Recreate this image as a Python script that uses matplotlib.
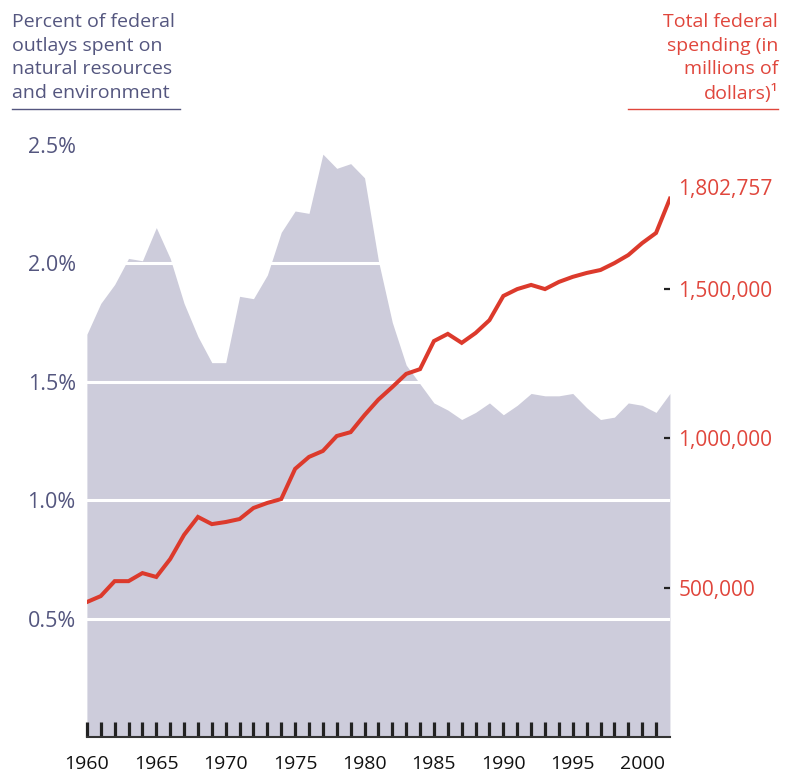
import matplotlib.pyplot as plt
from matplotlib.ticker import FuncFormatter

plt.rcParams['font.family'] = ['Open Sans', 'DejaVu Sans']

years = list(range(1960, 2003))

# percent of federal outlays spent on natural resources and environment
pct_outlays = [1.70, 1.83, 1.91, 2.02, 2.01, 2.15, 2.02, 1.83, 1.69, 1.58,
               1.58, 1.86, 1.85, 1.95, 2.13, 2.22, 2.21, 2.46, 2.40, 2.42,
               2.36, 2.01, 1.75, 1.57, 1.49, 1.41, 1.38, 1.34, 1.37, 1.41,
               1.36, 1.40, 1.45, 1.44, 1.44, 1.45, 1.39, 1.34, 1.35, 1.41,
               1.40, 1.37, 1.45]

# total federal spending, millions of dollars
total_spending = [452000, 472000, 522000, 522000, 549000, 536000, 596000, 677000,
                  737000, 713000, 720000, 730000, 767000, 784000, 797000, 898000,
                  938000, 958000, 1008000, 1021000, 1078000, 1130000, 1172000,
                  1216000, 1232000, 1326000, 1350000, 1320000, 1353000, 1396000,
                  1477000, 1500000, 1514000, 1500000, 1524000, 1541000, 1554000,
                  1564000, 1587000, 1614000, 1654000, 1688000, 1802757]

pct_ticks = [0.5, 1.0, 1.5, 2.0, 2.5]
pct_grid = [0.5, 1.0, 1.5, 2.0]
spend_ticks = [500000, 1000000, 1500000]
label_years = list(range(1960, 2001, 5))

slate = '#54567f'
red_txt = '#e0463c'
red_line = '#dc3a2c'
area_col = '#cdccdb'

fig = plt.figure(figsize=(7.9, 7.72), dpi=100)
ax = fig.add_axes([0.110, 0.0453, 0.738, 0.798])

ax.fill_between(years, pct_outlays, 0, color=area_col, lw=0, zorder=1)
for g in pct_grid:
    ax.axhline(g, color='white', lw=2.2, zorder=2)

ax.set_xlim(1960, 2002)
ax.set_ylim(0, 2.6)
for s in ['top', 'left', 'right']:
    ax.spines[s].set_visible(False)
ax.spines['bottom'].set_color('#333333')
ax.spines['bottom'].set_linewidth(1.5)
ax.spines['bottom'].set_zorder(5)

ax.set_xticks(list(range(1960, 2002)))
ax.set_xticklabels([str(y) if y in label_years else '' for y in range(1960, 2002)])
ax.tick_params(axis='x', direction='in', length=11, width=2.3, color='#222222',
               labelsize=14, labelcolor='#111111', pad=13)
ax.set_yticks(pct_ticks)
ax.set_yticklabels([f'{t:.1f}%' for t in pct_ticks])
ax.tick_params(axis='y', length=0, labelsize=15.5, labelcolor=slate, pad=8)

ax2 = ax.twinx()
ax2.plot(years, total_spending, color=red_line, lw=2.9, solid_joinstyle='miter', zorder=3)
ax2.set_ylim(0, 2063000)
for s in ['top', 'left', 'right', 'bottom']:
    ax2.spines[s].set_visible(False)
ax2.set_yticks(spend_ticks)
ax2.yaxis.set_major_formatter(FuncFormatter(lambda v, p: f'{int(v):,}'))
ax2.tick_params(axis='y', direction='in', length=4.5, width=1.6, color='#222222',
                labelsize=15, labelcolor=red_txt, pad=6)
ax2.annotate(f'{total_spending[-1]:,}', xy=(1, total_spending[-1]),
             xycoords=('axes fraction', 'data'), xytext=(6, 6.5),
             textcoords='offset points', ha='left', va='center',
             fontsize=15, color=red_txt)

fig.text(12 / 790, 1 - 13 / 772,
         'Percent of federal\noutlays spent on\nnatural resources\nand environment',
         ha='left', va='top', fontsize=14, color=slate, linespacing=1.4)
fig.add_artist(plt.Line2D([12 / 790, 180 / 790], [1 - 109 / 772] * 2, color=slate, lw=1))

fig.text(778 / 790, 1 - 13 / 772,
         'Total federal\nspending (in\nmillions of\ndollars)\u00b9',
         ha='right', va='top', fontsize=14, color=red_txt, linespacing=1.4)
fig.add_artist(plt.Line2D([628 / 790, 778 / 790], [1 - 109 / 772] * 2, color=red_txt, lw=1))

fig.savefig('out.png', dpi=100)
